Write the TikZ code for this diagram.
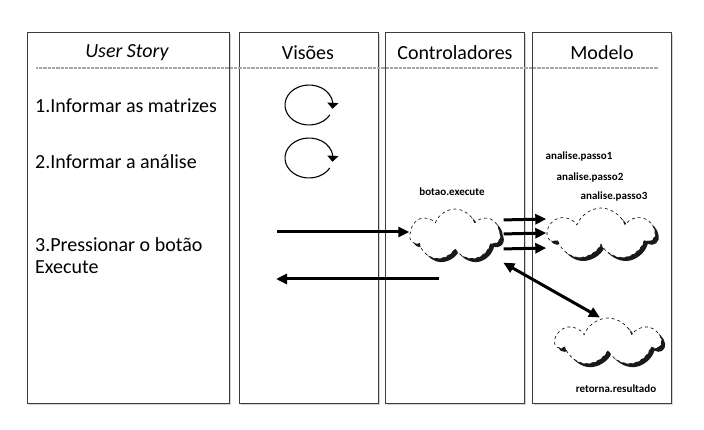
\documentclass[tikz,border=0pt]{standalone}
\usepackage{fontspec}
\setmainfont{Carlito}
\usetikzlibrary{arrows.meta, bending, positioning, shapes.symbols, shadows}
\definecolor{framegray}{RGB}{60,60,60}

\begin{document}
\begin{tikzpicture}[x=1pt, y=-1pt,
   col/.style={rectangle, draw=framegray, line width=1pt, fill=white, inner sep=0pt,
               minimum width=139pt, minimum height=370pt,
               drop shadow={shadow xshift=1.5pt, shadow yshift=-1.5pt, opacity=0.35}},
   hdr/.style={font=\fontsize{20}{24}\selectfont, inner sep=0pt},
   txt/.style={font=\fontsize{20}{22}\selectfont, anchor=west, align=left, inner sep=0pt},
   lbl/.style={font=\fontsize{11}{13}\selectfont\bfseries, inner sep=0pt},
   blob/.style={cloud, cloud puffs=7, cloud puff arc=140, cloud ignores aspect, draw,
                dashed, line width=0.6pt, fill=white, minimum width=90pt, minimum height=52pt,
                drop shadow={shadow xshift=3.5pt, shadow yshift=-3.5pt, fill=black, opacity=0.9}},
   flow/.style={line width=3pt, -{Triangle[length=11pt, width=10pt]}},
   loopy/.style={line width=1.1pt, -{Triangle[length=6pt, width=11pt, flex]}}]
  \useasboundingbox (0,0) rectangle (704,430);

  % the four columns
  \node[col, minimum width=202pt] (story) at (128,218) {};
  \node[col] (vis) at (308.5,218) {};
  \node[col] (ctrl) at (454.5,218) {};
  \node[col] (mod) at (601.5,218) {};

  \node[hdr, font=\fontsize{20}{24}\selectfont\itshape] (hstory) at (127,53) {User Story};
  \node[hdr] (hvis) at (308,53) {Visões};
  \node[hdr] (hctrl) at (455,53) {Controladores};
  \node[hdr] (hmod) at (602,53) {Modelo};
  \draw[gray!70, line width=1.6pt, dash pattern=on 0.7pt off 0.6pt] (36,68) -- (658,68);

  % user story steps
  \node[txt] (s1) at (35,106) {1.Informar as matrizes};
  \node[txt] (s2) at (35,162) {2.Informar a análise};
  \node[txt] (s3) at (35,256) {3.Pressionar o botão\\Execute};

  % views
  \coordinate (v1) at (309,105);
  \coordinate (v2) at (309,158);
  \foreach \c in {v1,v2}
    \draw[loopy] (\c) ++(-30:24pt and 20pt) arc[start angle=-30, end angle=-371,
                                                 x radius=24pt, y radius=20pt];

  % controller and model
  \node[blob] (bot) at (455,235) {};
  \node[lbl] (lbot) at (452,192) {botao.execute};
  \node[blob, minimum width=106pt, minimum height=52pt] (passos) at (601,234) {};
  \node[lbl] (lp1) at (579,157) {analise.passo1};
  \node[lbl] (lp2) at (590,178) {analise.passo2};
  \node[lbl] (lp3) at (614,197) {analise.passo3};
  \node[blob, minimum width=104pt, minimum height=48pt] (res) at (608,342) {};
  \node[lbl] (lres) at (616,389) {retorna.resultado};

  \coordinate (vin) at (277,232);
  \coordinate (vout) at (276,279);
  \draw[flow] (vin) -- (vin -| bot.west);
  \draw[flow] (bot.south |- vout) ++(-16,0) -- (vout);
  \foreach \dy in {15,1,-14}
    \draw[flow, shorten <=3pt] ([yshift=\dy pt]bot.east) -- ([yshift=\dy pt]passos.west);
  \draw[flow, {Triangle[length=11pt, width=10pt]}-{Triangle[length=11pt, width=10pt]},
        shorten <=20pt, shorten >=2pt] (bot.-30) -- (res.105);
\end{tikzpicture}
\end{document}
